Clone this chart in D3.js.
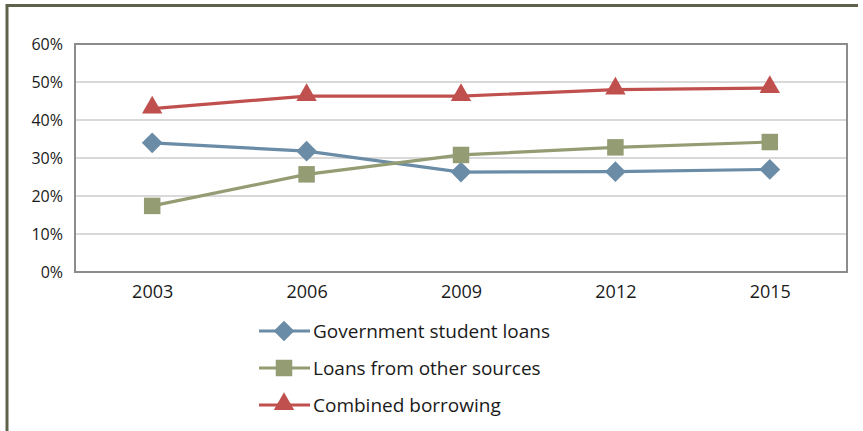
<!DOCTYPE html>
<html><head><meta charset="utf-8">
<script src="https://cdn.jsdelivr.net/npm/d3@7"></script>
<style>body{margin:0;background:#fff}svg{display:block}text{font-family:"Open Sans","Noto Sans",sans-serif;fill:#1a1a1a}</style>
</head><body>
<script>
const years = ["2003","2006","2009","2012","2015"];
const govLoans = [34, 31.8, 26.3, 26.4, 27];
const otherLoans = [17.4, 25.7, 30.8, 32.8, 34.2];
const combined = [43, 46.3, 46.3, 48, 48.4];
const yTicks = [0,10,20,30,40,50,60];
const seriesNames = ["Government student loans","Loans from other sources","Combined borrowing"];
const colors = ["#6a8ca6","#939c72","#c0504d"];
const series = [govLoans, otherLoans, combined];

const W=863,H=431;
const svg=d3.select("body").append("svg").attr("width",W).attr("height",H);
svg.append("path").attr("d","M7,431 L7,5.5 L858,5.5").attr("fill","none").attr("stroke","#5f6248").attr("stroke-width",3);

const L=75,R=847,T=44,B=272;
const x=d3.scalePoint().domain(years).range([L,R]).padding(0.5);
const y=d3.scaleLinear().domain([0,60]).range([B,T]);

svg.append("g").selectAll("line").data(yTicks.slice(1,-1)).join("line")
 .attr("x1",L).attr("x2",R).attr("y1",d=>y(d)).attr("y2",d=>y(d))
 .attr("stroke","#d9d9d9").attr("stroke-width",2);
svg.append("rect").attr("x",L).attr("y",T).attr("width",R-L).attr("height",B-T)
 .attr("fill","none").attr("stroke","#8c8c8c").attr("stroke-width",2);

const yAxis=svg.append("g").attr("transform",`translate(${L},0)`).call(d3.axisLeft(y).tickValues(yTicks).tickSize(0).tickPadding(12).tickFormat(d=>d+"%"));
yAxis.select(".domain").remove();
yAxis.selectAll("text").attr("font-size",16).attr("font-family","'Open Sans',sans-serif").attr("fill","#1a1a1a");

const xAxis=svg.append("g").attr("transform",`translate(0,${B})`).call(d3.axisBottom(x).tickSize(0).tickPadding(13));
xAxis.select(".domain").remove();
xAxis.selectAll("text").attr("font-size",18).attr("font-family","'Open Sans',sans-serif").attr("fill","#1a1a1a");

function marker(sel,k){
  if(k===0) sel.append("path").attr("d",d3.symbol().type(d3.symbolSquare).size(215)()).attr("transform","rotate(45)");
  else if(k===1) sel.append("path").attr("d",d3.symbol().type(d3.symbolSquare).size(272)());
  else sel.append("path").attr("d",d3.symbol().type(d3.symbolTriangle).size(180)()).attr("transform","translate(0,-1)");
  sel.selectAll("path").attr("fill",colors[k]);
}

const line=d3.line().x((d,i)=>x(years[i])).y(d=>y(d));
series.forEach((s,k)=>{
  svg.append("path").datum(s).attr("d",line).attr("fill","none").attr("stroke",colors[k]).attr("stroke-width",3.2);
  svg.append("g").selectAll("g").data(s).join("g")
   .attr("transform",(d,i)=>`translate(${x(years[i])},${y(d)})`)
   .each(function(){marker(d3.select(this),k);});
});

const lg=svg.append("g");
seriesNames.forEach((n,k)=>{
  const yy=331+k*37;
  lg.append("line").attr("x1",259).attr("x2",310).attr("y1",yy).attr("y2",yy).attr("stroke",colors[k]).attr("stroke-width",3.2);
  marker(lg.append("g").attr("transform",`translate(284,${yy})`),k);
  lg.append("text").attr("x",313).attr("y",yy).attr("dy","0.35em").attr("font-size",19).text(n);
});
</script>
</body></html>
